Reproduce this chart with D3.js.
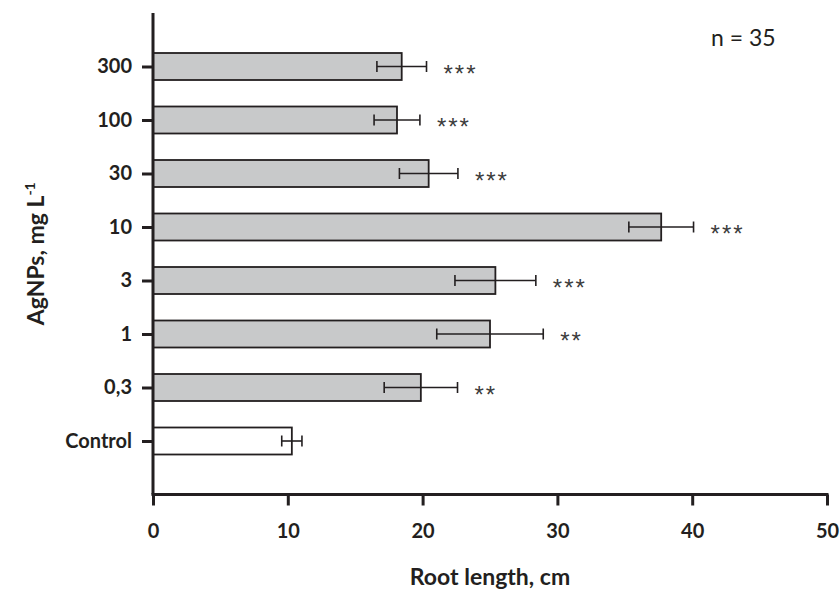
<!DOCTYPE html>
<html>
<head>
<meta charset="utf-8">
<script src="https://cdn.jsdelivr.net/npm/d3@7"></script>
<style>
  html, body { margin: 0; padding: 0; background: #fff; }
  svg { display: block; }
  text { font-family: Lato, "Open Sans", sans-serif; fill: #231f20; }
  text.stars { font-family: "Liberation Sans", Arial, sans-serif; fill: #3c3c3c; }
</style>
</head>
<body>
<svg id="chart" width="840" height="590"></svg>
<script>
// ---- data (top to bottom) ----
const categories = ["300", "100", "30", "10", "3", "1", "0,3", "Control"];
const means      = [18.45, 18.1, 20.45, 37.7, 25.4, 25.0, 19.87, 10.3];
const errors     = [1.84, 1.7, 2.17, 2.4, 3.0, 3.95, 2.72, 0.75];
const signif     = ["***", "***", "***", "***", "***", "**", "**", ""];
const xTicks     = [0, 10, 20, 30, 40, 50];
const sampleNote = "n = 35";

const data = categories.map((c, i) => ({ cat: c, mean: means[i], err: errors[i], sig: signif[i], control: c === "Control" }));

const svg = d3.select("#chart");
const ink = "#231f20";

const x = d3.scaleLinear().domain([0, 50]).range([153, 827]);
const y = d3.scalePoint().domain(categories).range([13, 494.5]).padding(1);
const barH = 27;

// bars
svg.append("g").selectAll("rect").data(data).join("rect")
  .attr("x", x(0))
  .attr("y", d => y(d.cat) - barH / 2)
  .attr("width", d => x(d.mean) - x(0))
  .attr("height", barH)
  .attr("fill", d => d.control ? "#ffffff" : "#c8c9ca")
  .attr("stroke", ink)
  .attr("stroke-width", 1.8);

// error bars
const eb = svg.append("g").attr("stroke", ink).attr("stroke-width", 1.6);
data.forEach(d => {
  const yc = y(d.cat);
  eb.append("line").attr("x1", x(d.mean - d.err)).attr("x2", x(d.mean + d.err)).attr("y1", yc).attr("y2", yc);
  eb.append("line").attr("x1", x(d.mean - d.err)).attr("x2", x(d.mean - d.err)).attr("y1", yc - 5.5).attr("y2", yc + 5.5);
  eb.append("line").attr("x1", x(d.mean + d.err)).attr("x2", x(d.mean + d.err)).attr("y1", yc - 5.5).attr("y2", yc + 5.5);
});

// significance stars
svg.append("g").selectAll("text").data(data.filter(d => d.sig)).join("text")
  .attr("class", "stars")
  .attr("x", d => x(d.mean + d.err) + 17)
  .attr("y", d => y(d.cat) + 15)
  .attr("font-size", 24)
  .attr("letter-spacing", 2)
  .text(d => d.sig);

// y axis
const yAxis = svg.append("g").attr("transform", `translate(${x(0)},0)`)
  .call(d3.axisLeft(y).tickSize(11).tickPadding(10));
yAxis.select(".domain").remove();
yAxis.selectAll(".tick line").attr("stroke", ink).attr("stroke-width", 3);
yAxis.selectAll(".tick text").attr("font-size", 20).attr("font-weight", 700)
  .attr("fill", ink).attr("font-family", "Lato, sans-serif");
svg.append("line").attr("x1", x(0)).attr("x2", x(0)).attr("y1", 13).attr("y2", 494.5)
  .attr("stroke", ink).attr("stroke-width", 3);

// x axis
const xAxis = svg.append("g").attr("transform", `translate(0,494.5)`)
  .call(d3.axisBottom(x).tickValues(xTicks).tickSize(11).tickPadding(18).tickFormat(d3.format("d")));
xAxis.select(".domain").remove();
xAxis.selectAll(".tick line").attr("stroke", ink).attr("stroke-width", 3);
xAxis.selectAll(".tick text").attr("font-size", 20).attr("font-weight", 700)
  .attr("fill", ink).attr("font-family", "Lato, sans-serif");
svg.append("line").attr("x1", x(0) - 1.5).attr("x2", x(50) + 1.5).attr("y1", 494.5).attr("y2", 494.5)
  .attr("stroke", ink).attr("stroke-width", 3);

// axis titles
svg.append("text")
  .attr("x", (x(0) + x(50)) / 2).attr("y", 585)
  .attr("text-anchor", "middle").attr("font-size", 23).attr("font-weight", 700)
  .text("Root length, cm");

const yt = svg.append("text")
  .attr("transform", `translate(44,${(13 + 494.5) / 2}) rotate(-90)`)
  .attr("text-anchor", "middle").attr("font-size", 23).attr("font-weight", 700);
yt.append("tspan").text("AgNPs, mg L");
yt.append("tspan").attr("dy", -9).attr("font-size", 14).text("-1");

// note
svg.append("text").attr("x", 711).attr("y", 46).attr("font-size", 23).text(sampleNote);
</script>
</body>
</html>
